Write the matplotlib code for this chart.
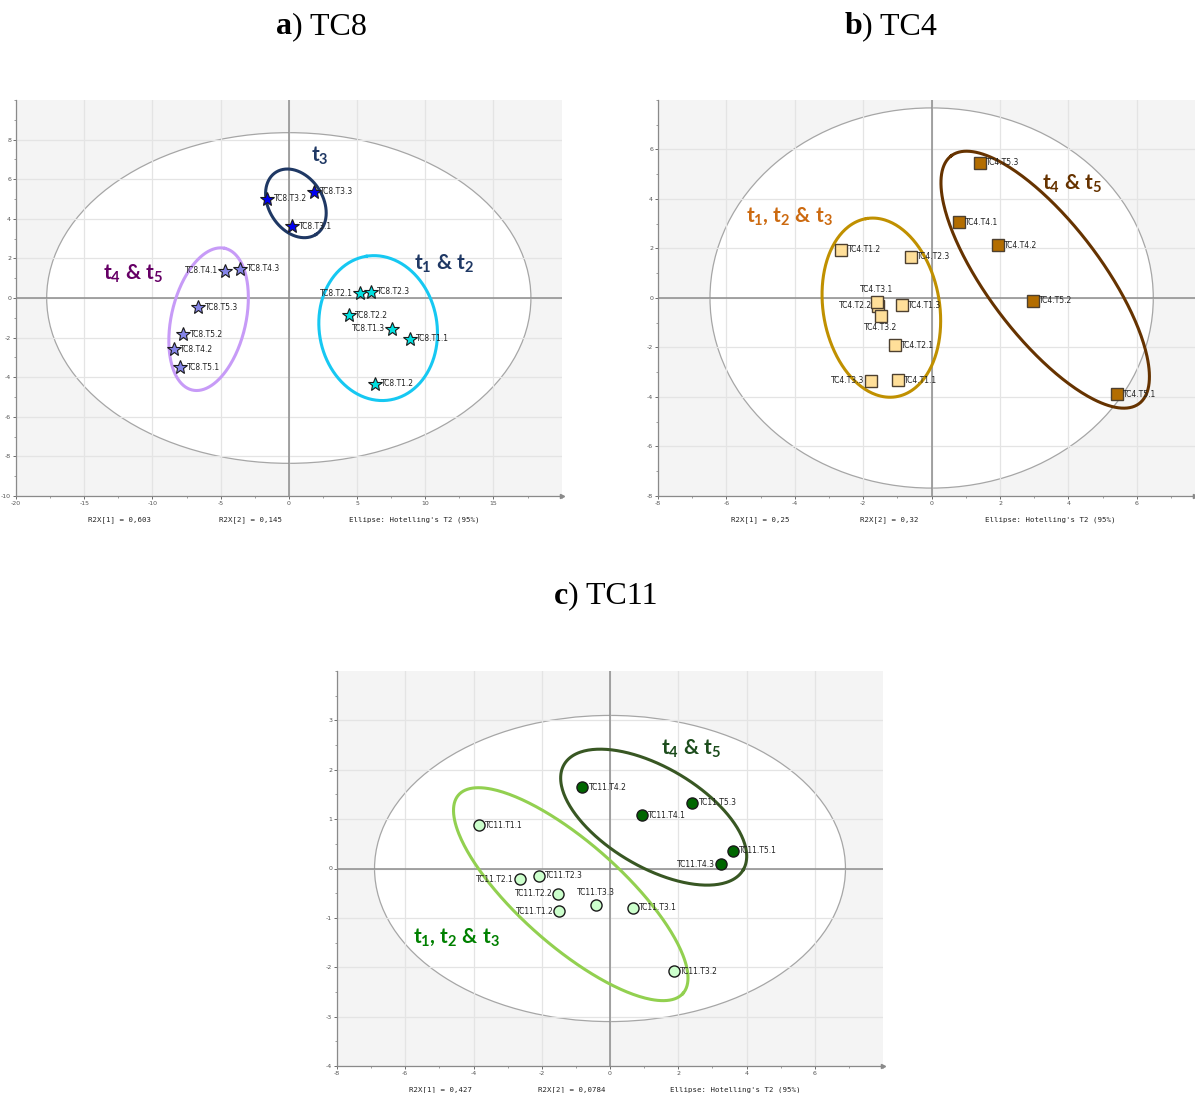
import numpy as np
import matplotlib
matplotlib.use("Agg")
import matplotlib.pyplot as plt
from matplotlib.patches import Ellipse

plt.rcParams['mathtext.fontset'] = 'custom'
plt.rcParams['mathtext.rm'] = 'Lato:bold'
plt.rcParams['mathtext.it'] = 'Lato:bold'
plt.rcParams['mathtext.bf'] = 'Lato:bold'

# TC8 scores (t[1], t[2])
tc8_names = ['TC8.T1.1', 'TC8.T1.2', 'TC8.T1.3', 'TC8.T2.1', 'TC8.T2.2', 'TC8.T2.3',
             'TC8.T3.1', 'TC8.T3.2', 'TC8.T3.3', 'TC8.T4.1', 'TC8.T4.2', 'TC8.T4.3',
             'TC8.T5.1', 'TC8.T5.2', 'TC8.T5.3']
tc8_t1 = [8.86, 6.33, 7.55, 5.19, 4.40, 6.03, 0.27, -1.58, 1.85, -4.70, -8.45, -3.56, -7.96, -7.74, -6.63]
tc8_t2 = [-2.06, -4.32, -1.55, 0.24, -0.88, 0.32, 3.63, 5.01, 5.36, 1.38, -2.58, 1.47, -3.49, -1.82, -0.47]

# TC4 scores
tc4_names = ['TC4.T1.1', 'TC4.T1.2', 'TC4.T1.3', 'TC4.T2.1', 'TC4.T2.2', 'TC4.T2.3',
             'TC4.T3.1', 'TC4.T3.2', 'TC4.T3.3', 'TC4.T4.1', 'TC4.T4.2',
             'TC4.T5.1', 'TC4.T5.2', 'TC4.T5.3']
tc4_t1 = [-0.99, -2.64, -0.88, -1.08, -1.56, -0.61, -1.61, -1.49, -1.78, 0.79, 1.94, 5.41, 2.95, 1.40]
tc4_t2 = [-3.32, 1.95, -0.30, -1.91, -0.31, 1.66, -0.15, -0.71, -3.34, 3.07, 2.14, -3.88, -0.12, 5.46]

# TC11 scores
tc11_names = ['TC11.T1.1', 'TC11.T1.2', 'TC11.T2.1', 'TC11.T2.2', 'TC11.T2.3',
              'TC11.T3.1', 'TC11.T3.2', 'TC11.T3.3', 'TC11.T4.1', 'TC11.T4.2', 'TC11.T4.3',
              'TC11.T5.1', 'TC11.T5.3']
tc11_t1 = [-3.85, -1.48, -2.63, -1.51, -2.08, 0.67, 1.87, -0.41, 0.94, -0.81, 3.25, 3.61, 2.41]
tc11_t2 = [0.88, -0.87, -0.22, -0.51, -0.15, -0.79, -2.08, -0.73, 1.08, 1.65, 0.09, 0.36, 1.33]

# label placement exceptions (default: right of the point)
label_side = {'TC8.T2.1': 'left', 'TC8.T1.3': 'left', 'TC8.T4.1': 'left',
              'TC4.T3.1': 'above', 'TC4.T2.2': 'left', 'TC4.T3.2': 'below', 'TC4.T3.3': 'left',
              'TC11.T2.1': 'left', 'TC11.T2.2': 'left', 'TC11.T1.2': 'left',
              'TC11.T3.3': 'above', 'TC11.T4.3': 'left'}

W, H = 1195, 1093
fig = plt.figure(figsize=(W / 100, H / 100), dpi=100)


def px_axes(l, r, t, b):
    return fig.add_axes([l / W, 1 - b / H, (r - l) / W, (b - t) / H])


def tilted(ax, cx, cy, a, b, ang, color, lw=2.2):
    # a, b in pixels, ang in degrees on screen
    pos = ax.get_position()
    x0, x1 = ax.get_xlim()
    y0, y1 = ax.get_ylim()
    sx = pos.width * W / (x1 - x0)
    sy = pos.height * H / (y1 - y0)
    t = np.linspace(0, 2 * np.pi, 300)
    th = np.radians(ang)
    u = a * np.cos(t)
    v = b * np.sin(t)
    xs = cx + (u * np.cos(th) - v * np.sin(th)) / sx
    ys = cy + (u * np.sin(th) + v * np.cos(th)) / sy
    ax.plot(xs, ys, color=color, lw=lw, zorder=3)


def base(ax, xlim, ylim, xticks, yticks, hot, r2x):
    ax.set_xlim(*xlim)
    ax.set_ylim(*ylim)
    ax.set_facecolor('#f4f4f4')
    ax.add_patch(Ellipse((0, 0), 2 * hot[0], 2 * hot[1], facecolor='white',
                         edgecolor='#a6a6a6', lw=0.9, zorder=0.3))
    ax.set_xticks(xticks)
    ax.set_yticks(yticks)
    xs = xticks[1] - xticks[0]
    ys = yticks[1] - yticks[0]
    ax.set_xticks(np.arange(xlim[0], xlim[1] + 0.01, xs / 2), minor=True)
    ax.set_yticks(np.arange(ylim[0], ylim[1] + 0.01, ys / 2), minor=True)
    ax.xaxis.set_major_formatter(plt.FuncFormatter(lambda v, p: '%g' % v))
    ax.yaxis.set_major_formatter(plt.FuncFormatter(lambda v, p: '%g' % v))
    ax.grid(True, which='major', color='#e4e4e4', lw=0.9, zorder=0.5)
    ax.set_axisbelow(True)
    ax.tick_params(labelsize=4.5, colors='#555555', length=2, width=0.6, pad=1.5)
    ax.tick_params(which='minor', length=1.2, width=0.5, colors='#777777')
    for s in ['top', 'right']:
        ax.spines[s].set_visible(False)
    for s in ['left', 'bottom']:
        ax.spines[s].set_color('#8a8a8a')
        ax.spines[s].set_linewidth(0.9)
    ax.plot(1, 0, '>', ms=3, color='#8a8a8a', transform=ax.transAxes, clip_on=False)
    ax.axhline(0, color='#8c8c8c', lw=1.1, zorder=1)
    ax.axvline(0, color='#8c8c8c', lw=1.1, zorder=1)
    for txt, fx in zip(r2x + ["Ellipse: Hotelling's T2 (95%)"], [0.19, 0.43, 0.73]):
        ax.text(fx, -0.06, txt, transform=ax.transAxes, ha='center', va='center',
                family='DejaVu Sans Mono', fontsize=5.3, color='#222222')


def points(ax, names, xs, ys, marker, colors, ms, mew=0.8, ec='#1a1a1a'):
    for n, x, y in zip(names, xs, ys):
        grp = n.split('.')[1]
        ax.plot(x, y, marker=marker, ms=ms, mfc=colors[grp], mec=ec, mew=mew,
                ls='none', zorder=4)
        side = label_side.get(n, 'right')
        off, ha, va = {'right': ((4.5, 0), 'left', 'center'),
                       'left': ((-4.5, 0), 'right', 'center'),
                       'above': ((0, 5.5), 'center', 'bottom'),
                       'below': ((0, -5.5), 'center', 'top')}[side]
        ax.annotate(n, (x, y), xytext=off, textcoords='offset points', ha=ha, va=va,
                    fontsize=5.5, family=['Liberation Sans Narrow', 'DejaVu Sans'],
                    color='#222222', zorder=5)


def title(x, y, letter, rest):
    fig.text(x, y, letter, fontsize=23, fontweight='bold', family='Liberation Serif',
             ha='right', va='center')
    fig.text(x, y, rest, fontsize=23, family='Liberation Serif', ha='left', va='center')


def group_label(ax, x, y, s, color):
    ax.text(x, y, s, fontsize=15, fontweight='bold', family='Lato', color=color,
            ha='center', va='center', zorder=5)


# a) TC8
ax1 = px_axes(16, 561.6, 100, 496)
base(ax1, (-20, 20), (-10, 10), np.arange(-20, 16, 5), np.arange(-10, 9, 2),
     (17.75, 8.35), ['R2X[1] = 0,603', 'R2X[2] = 0,145'])
tilted(ax1, 0.52, 4.78, 37, 27, -57, '#1f3864')
tilted(ax1, -5.88, -1.07, 72.7, 37.2, 77, '#c79bf7')
tilted(ax1, 6.55, -1.52, 72.8, 58.9, 99.5, '#16c8f2')
points(ax1, tc8_names, tc8_t1, tc8_t2, '*',
       {'T1': '#00e1e1', 'T2': '#00e1e1', 'T3': '#0000f0', 'T4': '#8585e8', 'T5': '#8585e8'}, 10)
group_label(ax1, 2.3, 7.2, 't$_3$', '#1f3864')
group_label(ax1, 11.4, 1.7, 't$_1$ & t$_2$', '#1f3864')
group_label(ax1, -11.4, 1.2, 't$_4$ & t$_5$', '#660066')
title(292 / W, 1 - 27 / H, 'a', ') TC8')

# b) TC4
ax2 = px_axes(658, 1195, 100, 496)
base(ax2, (-8, 7.7), (-8, 8), np.arange(-8, 7, 2), np.arange(-8, 7, 2),
     (6.48, 7.68), ['R2X[1] = 0,25', 'R2X[2] = 0,32'])
tilted(ax2, -1.47, -0.39, 90.3, 58.2, 99.5, '#c09000')
tilted(ax2, 3.32, 0.74, 155.5, 56.5, 127.2, '#663300')
points(ax2, tc4_names, tc4_t1, tc4_t2, 's',
       {'T1': '#ffdf99', 'T2': '#ffdf99', 'T3': '#ffdf99', 'T4': '#b36d00', 'T5': '#b36d00'},
       8.5, mew=1.0, ec='#4d4030')
group_label(ax2, -4.15, 3.3, 't$_1$, t$_2$ & t$_3$', '#cc6a10')
group_label(ax2, 4.1, 4.6, 't$_4$ & t$_5$', '#663300')
title(862 / W, 1 - 27 / H, 'b', ') TC4')

# c) TC11
ax3 = px_axes(337, 883, 671, 1066)
base(ax3, (-8, 8), (-4, 4), np.arange(-8, 7, 2), np.arange(-4, 4, 1),
     (6.9, 3.1), ['R2X[1] = 0,427', 'R2X[2] = 0,0784'])
tilted(ax3, 1.28, 1.04, 103.9, 49.8, -30.5, '#385723')
tilted(ax3, -1.15, -0.52, 149.8, 51.4, -41.5, '#92d050')
points(ax3, tc11_names, tc11_t1, tc11_t2, 'o',
       {'T1': '#ccffcc', 'T2': '#ccffcc', 'T3': '#ccffcc', 'T4': '#006600', 'T5': '#006600'},
       8, mew=1.0, ec='#1a1a1a')
group_label(ax3, 2.37, 2.42, 't$_4$ & t$_5$', '#1d4d1d')
group_label(ax3, -4.5, -1.39, 't$_1$, t$_2$ & t$_3$', '#008000')
title(568 / W, 1 - 596 / H, 'c', ') TC11')

fig.savefig('out.png', dpi=100)
